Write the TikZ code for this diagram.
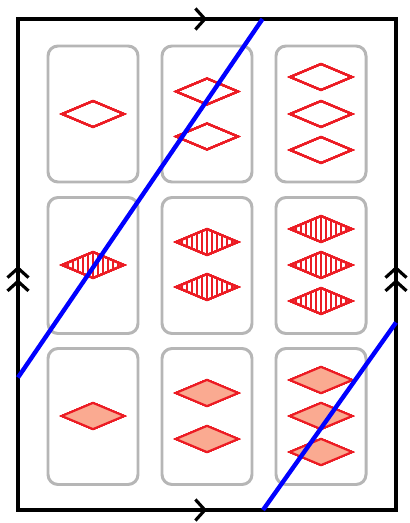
\documentclass[tikz,border=0pt]{standalone}
\usetikzlibrary{arrows.meta,decorations.markings}
\definecolor{cardgray}{RGB}{182,182,182}
\definecolor{setred}{RGB}{236,28,36}
\definecolor{salmon}{RGB}{250,170,145}

\begin{document}
\begin{tikzpicture}[x=0.02cm,y=-0.02cm,line join=miter]
\tikzset{
  frame/.style={line width=2pt,black,line cap=rect},
  card/.style={line width=1.7pt,cardgray,rounded corners=0.2cm},
  shp/.style={line width=1.1pt,setred},
  hatch/.style={line width=0.6pt,setred},
  cut/.style={line width=2.5pt,blue},
  onebarb/.style={postaction={decorate},decoration={markings,
    mark=at position 0.5 with {\arrow[line width=1.8pt]{Straight Barb[length=0.19cm,width=0.42cm]}}}},
  twobarb/.style={postaction={decorate},decoration={markings,
    mark=at position 0.47 with {\arrow[line width=1.8pt]{Straight Barb[length=0.19cm,width=0.42cm]}},
    mark=at position 0.497 with {\arrow[line width=1.8pt]{Straight Barb[length=0.19cm,width=0.42cm]}}}}}
\useasboundingbox (0,0) rectangle (409,523);
% card with centre x, y
\newcommand{\card}[2]{\draw[card] (#1-45,#2-68) rectangle (#1+45,#2+68);}
% diamond at x, y, extra style
\newcommand{\diam}[3]{\draw[shp,#3] (#1-31,#2) -- (#1,#2-13) -- (#1+31,#2) -- (#1,#2+13) -- cycle;}
% striped diamond at x, y
\newcommand{\sdiam}[2]{%
  \begin{scope}
    \clip (#1-31,#2) -- (#1,#2-13) -- (#1+31,#2) -- (#1,#2+13) -- cycle;
    \foreach \k in {-30,-25,...,30} \draw[hatch] (#1+\k,#2-14) -- (#1+\k,#2+14);
  \end{scope}
  \diam{#1}{#2}{}}
% ---------- cards ----------
\foreach \cx in {93,207,321}
  \foreach \cy in {114,265.5,416.5} \card{\cx}{\cy}
% ---------- open diamonds ----------
\diam{93}{114}{}
\diam{207}{91.5}{}  \diam{207}{136.5}{}
\diam{321}{77}{}    \diam{321}{114}{}    \diam{321}{150}{}
% ---------- striped diamonds ----------
\sdiam{93}{265}
\sdiam{207}{242}  \sdiam{207}{287}
\sdiam{321}{229}  \sdiam{321}{265}  \sdiam{321}{301}
% ---------- solid diamonds ----------
\diam{93}{416}{fill=salmon}
\diam{207}{393}{fill=salmon}  \diam{207}{439}{fill=salmon}
\diam{321}{380}{fill=salmon}  \diam{321}{416}{fill=salmon}  \diam{321}{452}{fill=salmon}
% ---------- torus square ----------
\coordinate (tl) at (18,19);
\coordinate (tr) at (396,19);
\coordinate (bl) at (18,510);
\coordinate (br) at (396,510);
\draw[frame,onebarb] (tl) -- (tr);
\draw[frame,onebarb] (bl) -- (br);
\draw[frame,twobarb] (bl) -- (tl);
\draw[frame,twobarb] (br) -- (tr);
% ---------- the line on the torus ----------
\coordinate (c1) at (262.5,19);
\coordinate (c2) at (18,377.5);
\coordinate (c3) at (396,322.5);
\coordinate (c4) at (263,510);
\draw[cut] (c1) -- (c2);
\draw[cut] (c3) -- (c4);
\end{tikzpicture}
\end{document}
